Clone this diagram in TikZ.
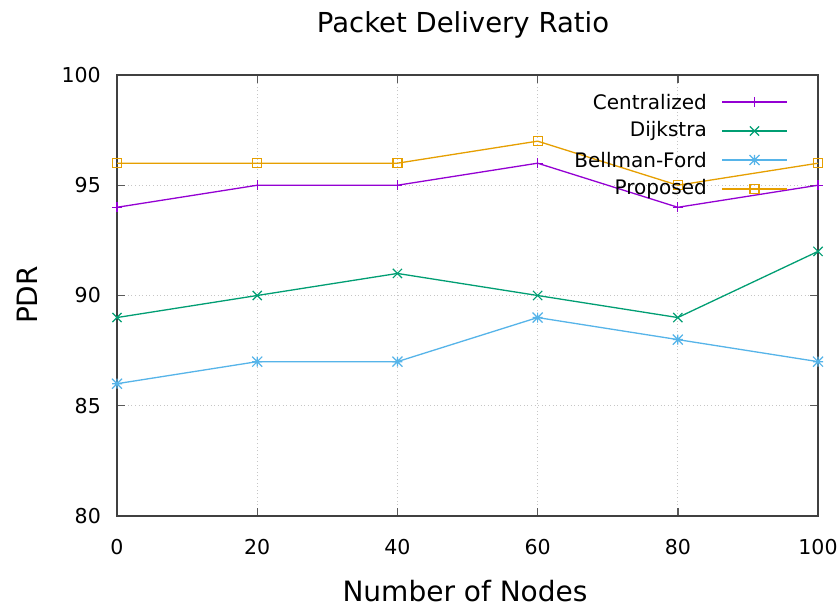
\documentclass[tikz,border=0pt]{standalone}
\usepackage{fontspec}
\setmainfont{DejaVu Sans}
\usepackage{tikz}
\usetikzlibrary{plotmarks}
\definecolor{cCentral}{HTML}{9400D3}
\definecolor{cDijk}{HTML}{009E73}
\definecolor{cBell}{HTML}{56B4E9}
\definecolor{cProp}{HTML}{E69F00}
\pgfdeclareplotmark{gstar}{%
  \pgfpathmoveto{\pgfqpoint{-\pgfplotmarksize}{0pt}}\pgfpathlineto{\pgfqpoint{\pgfplotmarksize}{0pt}}%
  \pgfpathmoveto{\pgfqpoint{0pt}{-\pgfplotmarksize}}\pgfpathlineto{\pgfqpoint{0pt}{\pgfplotmarksize}}%
  \pgfpathmoveto{\pgfqpoint{-\pgfplotmarksize}{-\pgfplotmarksize}}\pgfpathlineto{\pgfqpoint{\pgfplotmarksize}{\pgfplotmarksize}}%
  \pgfpathmoveto{\pgfqpoint{-\pgfplotmarksize}{\pgfplotmarksize}}\pgfpathlineto{\pgfqpoint{\pgfplotmarksize}{-\pgfplotmarksize}}%
  \pgfusepathqstroke}
\tikzset{
  gridline/.style={gray!45, line width=0.9pt, dash pattern=on 1pt off 2.6pt},
  frameline/.style={black!75, line width=1.6pt},
  tickline/.style={black!65, line width=1.4pt},
  series/.style={line width=1.3pt, mark size=5pt, mark options={solid, line width=1.2pt}},
  xmark/.style={mark=x, mark size=6.5pt},
  ticklabel/.style={font=\fontsize{20.5}{24}\selectfont, inner sep=0pt},
  legendlabel/.style={font=\fontsize{20}{24}\selectfont, anchor=east, inner sep=0pt},
  axislabel/.style={font=\fontsize{28}{32}\selectfont, inner sep=0pt}
}
\begin{document}
\begin{tikzpicture}[x=1pt,y=1pt]
\useasboundingbox[fill=white] (0,0) rectangle (840,-609);

% titles
\node[font=\fontsize{27.5}{31}\selectfont, inner sep=0pt] (title) at (463,-25) {Packet Delivery Ratio};
\node[axislabel] (xlabel) at (465,-591) {Number of Nodes};
\node[axislabel, rotate=90] (ylabel) at (27,-295) {PDR};

\begin{scope}[shift={(117pt,-2280pt)}, x=7.01pt, y=22.05pt]
% grid
\foreach \gx in {20,40,60,80} \draw[gridline] (\gx,80) -- (\gx,100);
\foreach \gy in {85,90,95} \draw[gridline] (0,\gy) -- (100,\gy);
% ticks and tick labels
\foreach \gx in {0,20,...,100} {
  \draw[tickline] (\gx,80) -- ++(0,8pt);
  \draw[tickline] (\gx,100) -- ++(0,-8pt);
  \node[ticklabel, anchor=north] (xt\gx) at ([yshift=-23pt]\gx,80) {\gx};
}
\foreach \gy in {80,85,...,100} {
  \draw[tickline] (0,\gy) -- ++(8pt,0);
  \draw[tickline] (100,\gy) -- ++(-8pt,0);
  \node[ticklabel, anchor=east] (yt\gy) at ([xshift=-16pt]0,\gy) {\gy};
}
% frame
\draw[frameline] (0,80) rectangle (100,100);
% data
\draw[series, cCentral, mark=+] plot coordinates {(0,94) (20,95) (40,95) (60,96) (80,94) (100,95)};
\draw[series, cDijk, xmark] plot coordinates {(0,89) (20,90) (40,91) (60,90) (80,89) (100,92)};
\draw[series, cBell, mark=gstar] plot coordinates {(0,86) (20,87) (40,87) (60,89) (80,88) (100,87)};
\draw[series, cProp, mark=square, mark size=4.5pt] plot coordinates {(0,96) (20,96) (40,96) (60,97) (80,95) (100,96)};
\end{scope}

% legend
\node[legendlabel] (lgC) at (707,-102) {Centralized};
\node[legendlabel] (lgD) at (707,-131) {Dijkstra};
\node[legendlabel] (lgB) at (707,-160) {Bellman-Ford};
\node[legendlabel] (lgP) at (707,-189) {Proposed};
\draw[series, cCentral] (722,-102) -- (787,-102);
\draw[series, cDijk] (722,-131) -- (787,-131);
\draw[series, cBell] (722,-160) -- (787,-160);
\draw[series, cProp] (722,-189) -- (787,-189);
\path[series, cCentral, mark=+] plot coordinates {(754.5,-102)};
\path[series, cDijk, xmark] plot coordinates {(754.5,-131)};
\path[series, cBell, mark=gstar] plot coordinates {(754.5,-160)};
\path[series, cProp, mark=square, mark size=4.5pt] plot coordinates {(754.5,-189)};
\end{tikzpicture}
\end{document}
